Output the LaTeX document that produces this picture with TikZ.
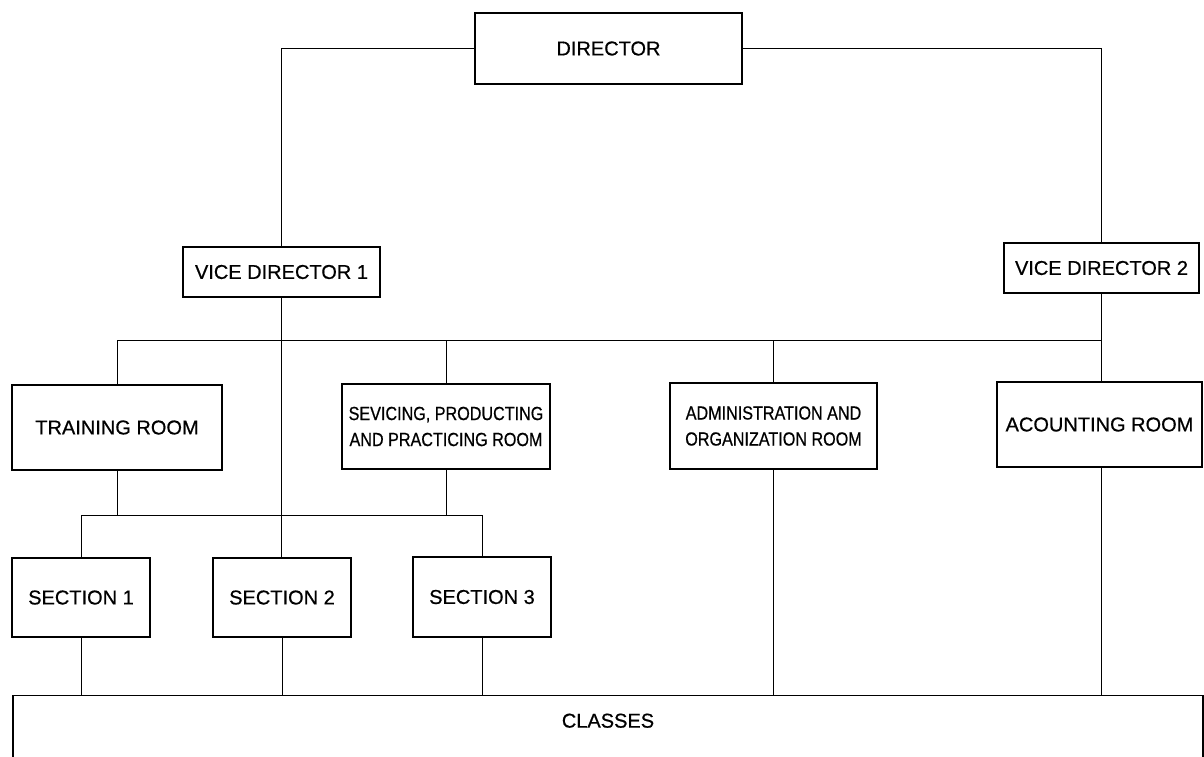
\documentclass[tikz,border=0pt]{standalone}
\usepackage{fontspec}
\setmainfont[FakeBold=0.6]{Liberation Sans}
\newfontfamily\narrowfont[FakeStretch=0.85,FakeBold=0.6]{Liberation Sans}
\tikzset{
  box/.style={draw, line width=1.2pt, rectangle, inner sep=0pt, align=center,
    font=\fontsize{20}{24}\selectfont},
  twoline/.style={font=\narrowfont\fontsize{19}{26}\selectfont},
  conn/.style={line width=1pt}
}
\begin{document}
\begin{tikzpicture}[x=1pt,y=1pt]
\path[use as bounding box, fill=white] (0,0) rectangle (1204,-756);
\clip (0,0) rectangle (1204,-756);

\node[box, minimum width=267pt, minimum height=71pt] (dir) at (608.5,-48.5) {DIRECTOR};
\node[box, minimum width=197pt, minimum height=50pt] (vd1) at (281.5,-272) {VICE DIRECTOR 1};
\node[box, minimum width=195pt, minimum height=50pt] (vd2) at (1101.5,-268) {VICE DIRECTOR 2};

\node[box, minimum width=210pt, minimum height=85pt] (train) at (117,-427.5) {TRAINING ROOM};
\node[box, twoline, minimum width=208pt, minimum height=85pt] (prac) at (446,-426.5) {SEVICING, PRODUCTING\\AND PRACTICING ROOM};
\node[box, twoline, minimum width=207pt, minimum height=86pt] (admin) at (773.5,-426) {ADMINISTRATION AND\\ORGANIZATION ROOM};
\node[box, minimum width=205pt, minimum height=85pt] (acc) at (1099.5,-424.5) {ACOUNTING ROOM};

\node[box, minimum width=138pt, minimum height=79pt] (sec1) at (81,-597.5) {SECTION 1};
\node[box, minimum width=138pt, minimum height=79pt] (sec2) at (282,-597.5) {SECTION 2};
\node[box, minimum width=138pt, minimum height=80pt] (sec3) at (482,-597) {SECTION 3};

\node[box, anchor=north, minimum width=1190pt, text height=32pt, text depth=43pt] (classes) at (608,-695) {CLASSES};

\coordinate (bus) at (0,-340);
\coordinate (sbus) at (0,-515);

\draw[conn] (dir.west) -| (vd1.north);
\draw[conn] (dir.east) -| (vd2.north);
\draw[conn] (vd1.south) -- (vd1.south |- sec2.north);
\draw[conn] (vd2.south) -- (vd2.south |- acc.north);

\draw[conn] (train.north) -- (train.north |- bus) -- (vd2.south |- bus);
\draw[conn] (prac.north) -- (prac.north |- bus);
\draw[conn] (admin.north) -- (admin.north |- bus);

\draw[conn] (train.south) -- (train.south |- sbus);
\draw[conn] (prac.south) -- (prac.south |- sbus);
\draw[conn] (sec1.north) -- (sec1.north |- sbus) -- (sec3.north |- sbus) -- (sec3.north);

\draw[conn] (sec1.south) -- (sec1.south |- classes.north);
\draw[conn] (sec2.south) -- (sec2.south |- classes.north);
\draw[conn] (sec3.south) -- (sec3.south |- classes.north);
\draw[conn] (admin.south) -- (admin.south |- classes.north);
\draw[conn] (vd2.south |- acc.south) -- (vd2.south |- classes.north);
\end{tikzpicture}
\end{document}
